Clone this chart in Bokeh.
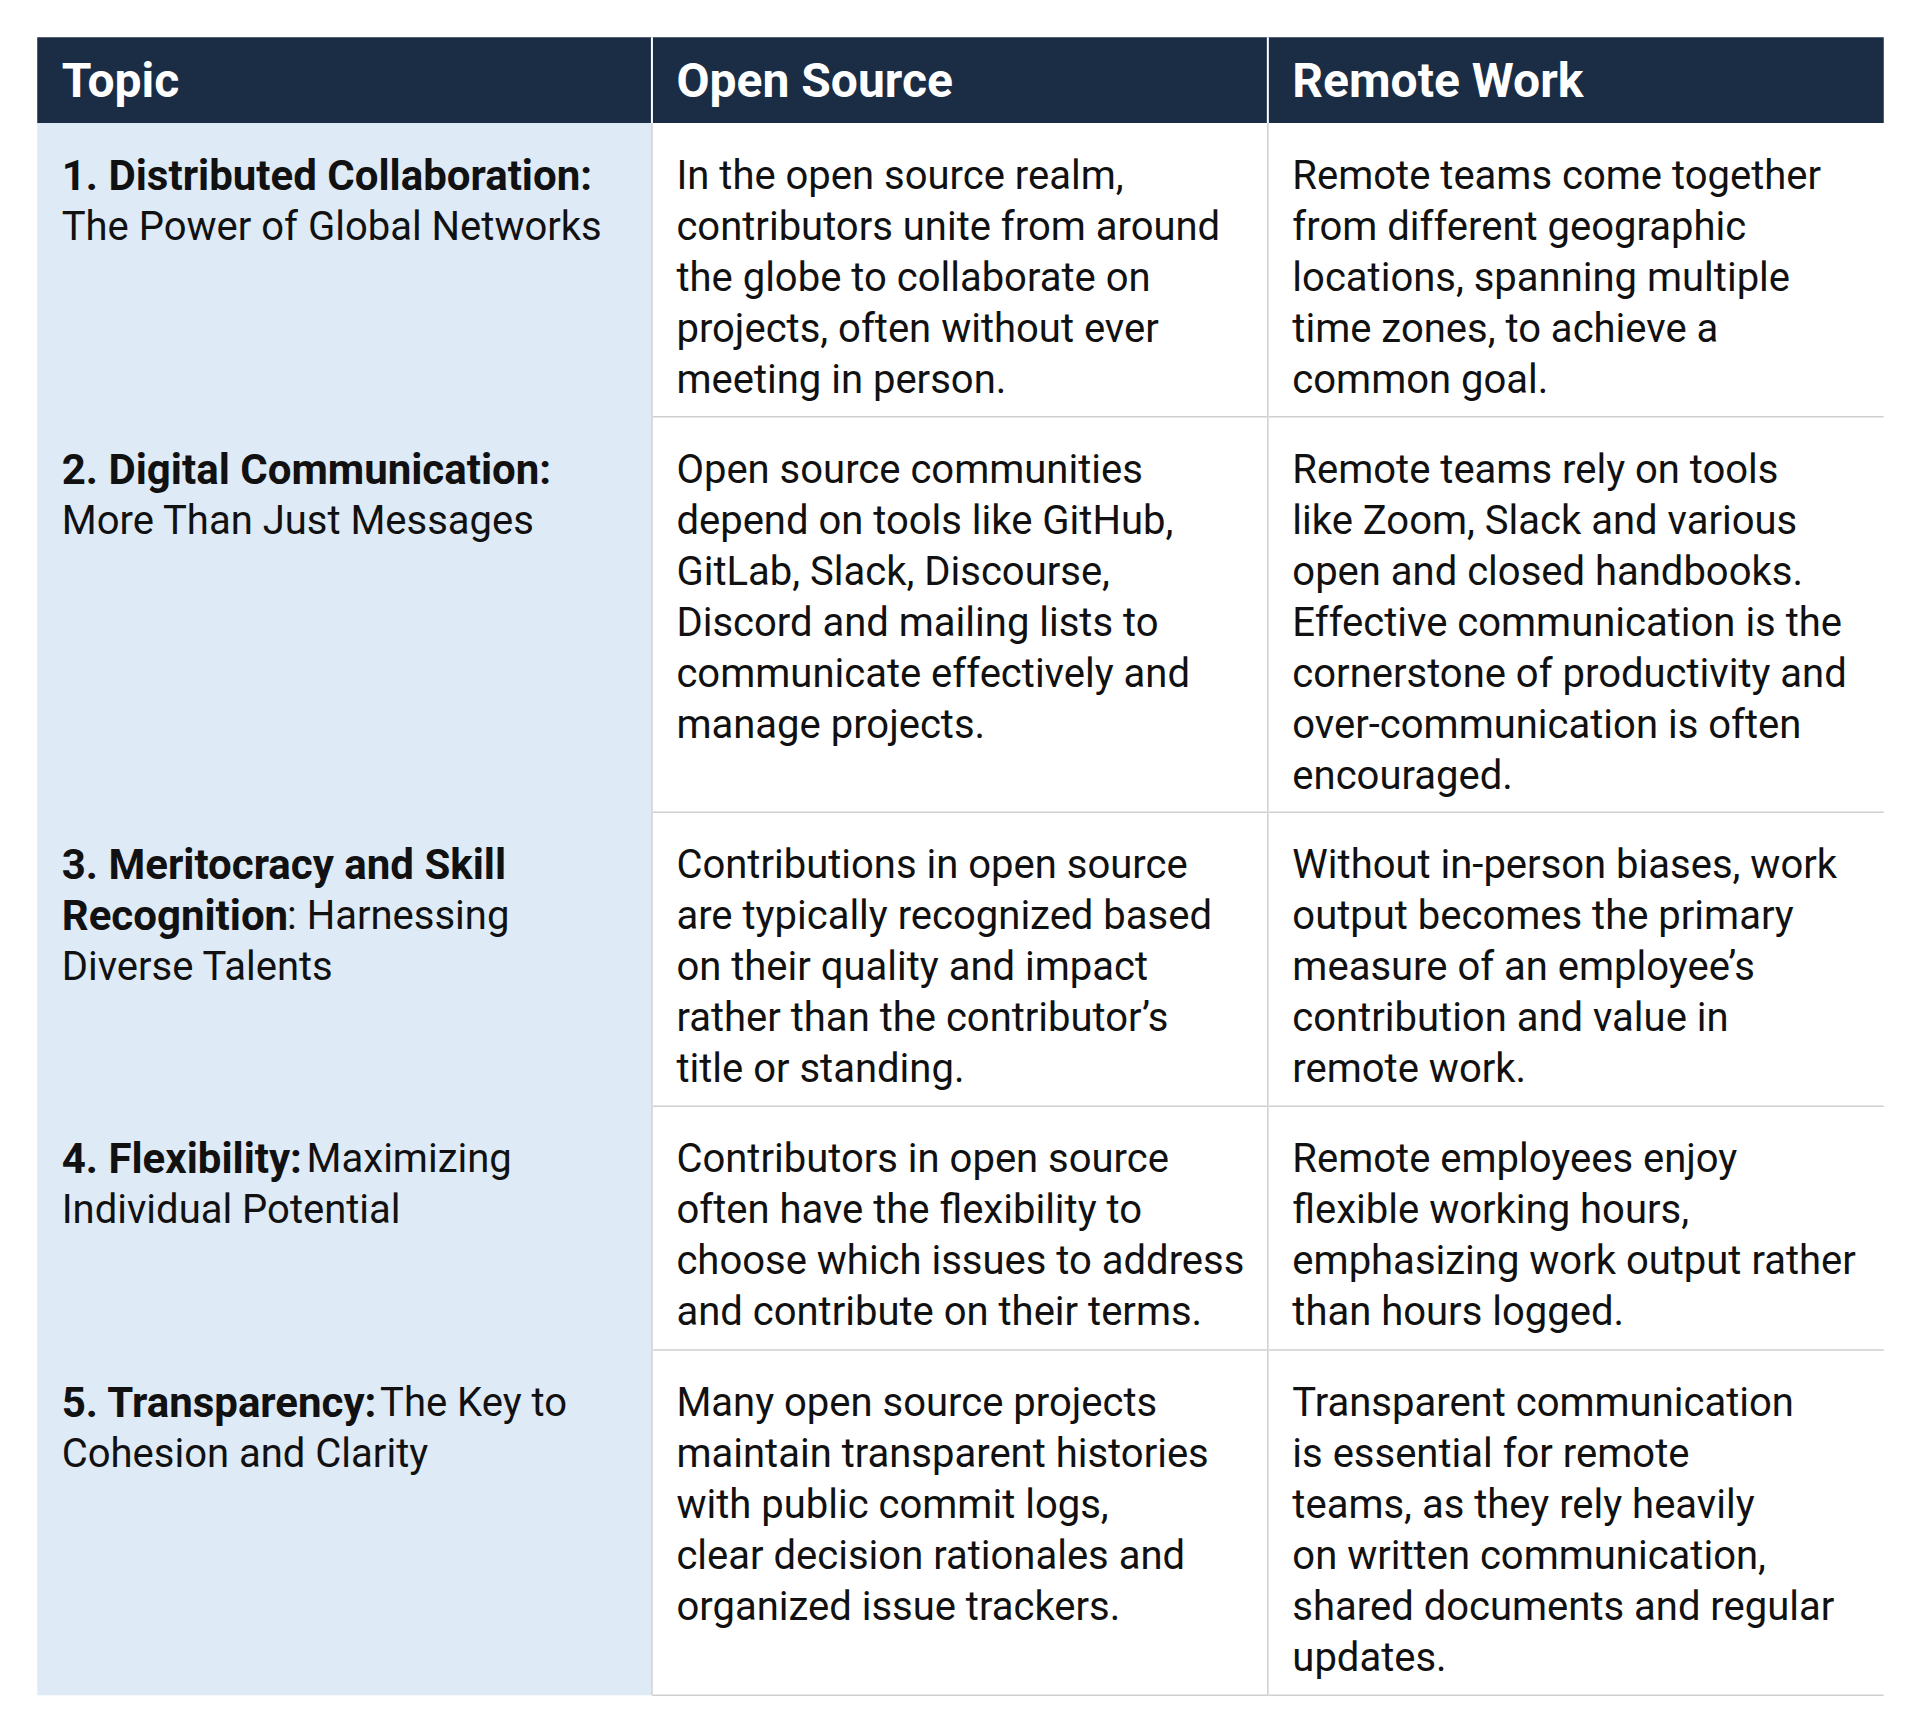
from bokeh.plotting import figure
from bokeh.models import Range1d
from bokeh.core.properties import value
from bokeh.embed import file_html
from bokeh.resources import INLINE

headers = ["Topic", "Open Source", "Remote Work"]
topic_lines = [
    [[("1. Distributed Collaboration:", True)], [("The Power of Global Networks", False)]],
    [[("2. Digital Communication:", True)], [("More Than Just Messages", False)]],
    [[("3. Meritocracy and Skill", True)], [("Recognition", True), (": Harnessing", False)], [("Diverse Talents", False)]],
    [[("4. Flexibility:", True), (" Maximizing", False)], [("Individual Potential", False)]],
    [[("5. Transparency:", True), (" The Key to", False)], [("Cohesion and Clarity", False)]],
]
open_source = [
    ["In the open source realm,", "contributors unite from around", "the globe to collaborate on", "projects, often without ever", "meeting in person."],
    ["Open source communities", "depend on tools like GitHub,", "GitLab, Slack, Discourse,", "Discord and mailing lists to", "communicate effectively and", "manage projects."],
    ["Contributions in open source", "are typically recognized based", "on their quality and impact", "rather than the contributor\u2019s", "title or standing."],
    ["Contributors in open source", "often have the flexibility to", "choose which issues to address", "and contribute on their terms."],
    ["Many open source projects", "maintain transparent histories", "with public commit logs,", "clear decision rationales and", "organized issue trackers."],
]
remote_work = [
    ["Remote teams come together", "from different geographic", "locations, spanning multiple", "time zones, to achieve a", "common goal."],
    ["Remote teams rely on tools", "like Zoom, Slack and various", "open and closed handbooks.", "Effective communication is the", "cornerstone of productivity and", "over-communication is often", "encouraged."],
    ["Without in-person biases, work", "output becomes the primary", "measure of an employee\u2019s", "contribution and value in", "remote work."],
    ["Remote employees enjoy", "flexible working hours,", "emphasizing work output rather", "than hours logged."],
    ["Transparent communication", "is essential for remote", "teams, as they rely heavily", "on written communication,", "shared documents and regular", "updates."],
]

S = 1920 / 1568
def X(v): return v * S
def Y(v): return v * S

W, H = 1904, 1714
p = figure(width=W, height=H, output_backend="svg", toolbar_location=None,
           x_range=Range1d(0, W), y_range=Range1d(H, 0), min_border=0)
p.axis.visible = False
p.grid.visible = False
p.outline_line_color = None
p.background_fill_color = "white"

cols = [30, 532, 1035, 1538]
rows = [100, 340, 663, 903, 1102, 1384]
FONT = value("Roboto")
FS = "40px"
FSB = "42px"
LH = 41.6 * S

p.quad(left=[X(cols[0])], right=[X(cols[1])], top=[Y(rows[0])], bottom=[Y(rows[-1])], fill_color="#deeaf6", line_color=None)
p.quad(left=[X(cols[0])], right=[X(cols[-1])], top=[Y(30)], bottom=[Y(100)], fill_color="#1b2d45", line_color=None)
for r in rows[1:]:
    p.segment(x0=[X(cols[1])], x1=[X(cols[-1])], y0=[Y(r)], y1=[Y(r)], line_color="#cfcfcf", line_width=1.5)
for c in cols[1:3]:
    p.segment(x0=[X(c)], x1=[X(c)], y0=[Y(30)], y1=[Y(rows[-1])], line_color="white", line_width=2)
    p.segment(x0=[X(c)], x1=[X(c)], y0=[Y(100)], y1=[Y(rows[-1])], line_color="#cfcfcf", line_width=1.5)

tx = [50, 552, 1055]
p.text(x=[X(t) for t in tx], y=[Y(65)] * 3, text=headers, text_color="white",
       text_font=FONT, text_font_style="bold", text_font_size="48px", text_baseline="middle")

offsets = {(2, 1): 234, (3, 0): 250, (4, 0): 310}
for i in range(5):
    y0 = Y(rows[i] + 43)
    for j, line in enumerate(topic_lines[i]):
        xs = 50
        for k, (txt, bold) in enumerate(line):
            if k > 0:
                xs = offsets[(i, j)]
            p.text(x=[X(xs)], y=[y0 + j * LH], text=[txt], text_color="#111111", text_font=FONT,
                   text_font_style="bold" if bold else "normal", text_font_size=FSB if bold else FS,
                   text_baseline="middle")
    for c, data in ((1, open_source), (2, remote_work)):
        p.text(x=[X(tx[c])] * len(data[i]), y=[y0 + j * LH for j in range(len(data[i]))], text=data[i],
               text_color="#111111", text_font=FONT, text_font_size=FS, text_baseline="middle")

open("out.html", "w").write(file_html(p, INLINE))
